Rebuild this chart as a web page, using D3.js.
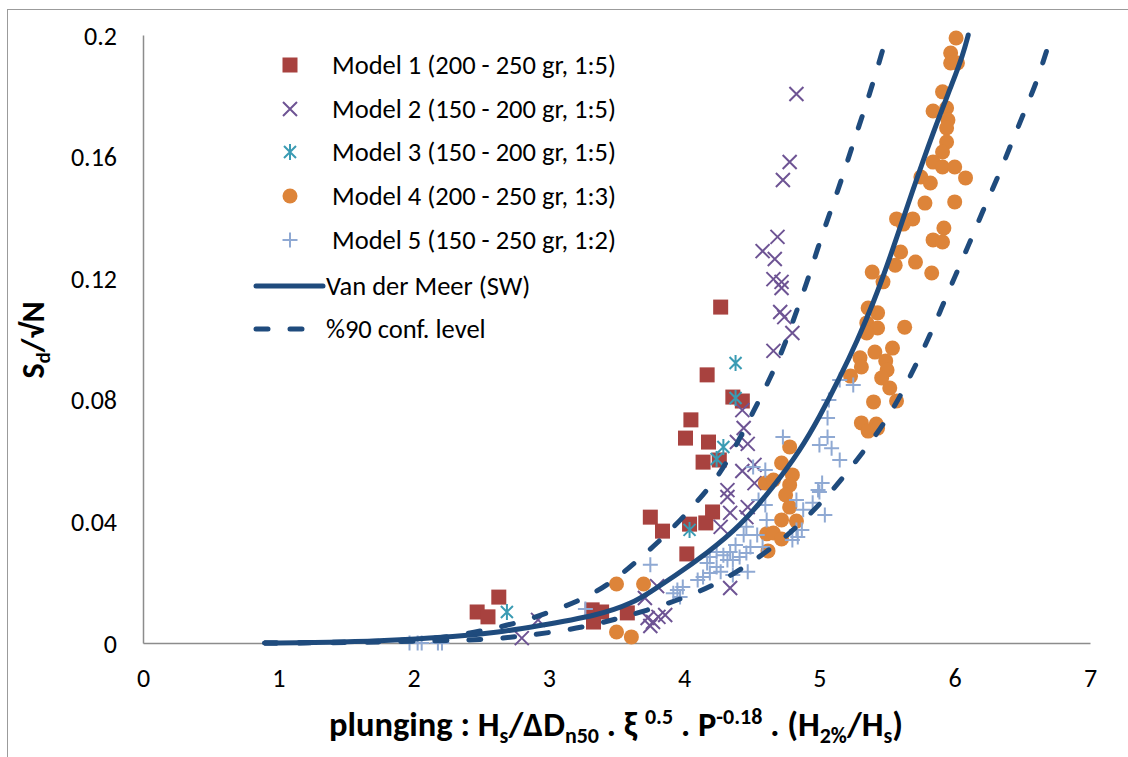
<!DOCTYPE html>
<html>
<head>
<meta charset="utf-8">
<script src="https://cdn.jsdelivr.net/npm/d3@7"></script>
<style>
  html, body { margin: 0; padding: 0; background: #fff; }
  svg { display: block; font-family: Carlito, Calibri, Lato, sans-serif; }
</style>
</head>
<body>
<svg id="chart" width="1128" height="757"></svg>
<script>
// ---- data -------------------------------------------------------------
const xTicks = [0, 1, 2, 3, 4, 5, 6, 7];
const yTicks = [0, 0.04, 0.08, 0.12, 0.16, 0.2];
const yTickLabels = ["0", "0.04", "0.08", "0.12", "0.16", "0.2"];

const seriesNames = [
  "Model 1 (200 - 250 gr, 1:5)",
  "Model 2 (150 - 200 gr, 1:5)",
  "Model 3 (150 - 200 gr, 1:5)",
  "Model 4 (200 - 250 gr, 1:3)",
  "Model 5 (150 - 250 gr, 1:2)",
  "Van der Meer (SW)",
  "%90 conf. level"
];

const model1 = [
  [2.47, 0.0102], [2.55, 0.0086], [2.63, 0.0151], [3.32, 0.0109], [3.39, 0.0102],
  [3.33, 0.0069], [3.58, 0.0099], [3.75, 0.0414], [3.84, 0.0368], [4.02, 0.0293],
  [4.04, 0.0391], [4.16, 0.0395], [4.21, 0.0431], [4.01, 0.0674], [4.05, 0.0734],
  [4.18, 0.0661], [4.14, 0.0595], [4.26, 0.0602], [4.17, 0.0882], [4.36, 0.0809],
  [4.43, 0.0796], [4.27, 0.1105]
];

const model2 = [
  [4.83, 0.1806], [4.78, 0.1582], [4.73, 0.1523], [4.69, 0.1336], [4.58, 0.1289],
  [4.67, 0.1263], [4.66, 0.1197], [4.72, 0.1188], [4.72, 0.1168], [4.71, 0.1089],
  [4.74, 0.1072], [4.80, 0.1020], [4.66, 0.0961], [4.43, 0.0766], [4.44, 0.0707],
  [4.47, 0.0655], [4.39, 0.0661], [4.43, 0.0566], [4.52, 0.0586], [4.52, 0.0526],
  [4.32, 0.0503], [4.32, 0.0480], [4.34, 0.0428], [4.47, 0.0447], [4.46, 0.0414],
  [4.27, 0.0382], [4.34, 0.0181], [2.92, 0.0076], [2.80, 0.0016], [3.71, 0.0148],
  [3.80, 0.0187], [3.73, 0.0082], [3.77, 0.0069], [3.81, 0.0086], [3.75, 0.0056],
  [3.86, 0.0092]
];

const model3 = [
  [2.69, 0.0102], [4.04, 0.0372], [4.24, 0.0605], [4.29, 0.0645], [4.38, 0.0806],
  [4.38, 0.0921]
];

const model4 = [
  [3.50, 0.0194], [3.70, 0.0194], [3.50, 0.0036], [3.61, 0.0020],
  [4.78, 0.0645], [4.72, 0.0592], [4.80, 0.0553], [4.60, 0.0526], [4.66, 0.0536],
  [4.78, 0.0520], [4.75, 0.0487], [4.78, 0.0447], [4.72, 0.0405], [4.83, 0.0401],
  [4.61, 0.0359], [4.66, 0.0362], [4.72, 0.0342], [4.62, 0.0303],
  [5.36, 0.1102], [5.43, 0.1086], [5.35, 0.1053], [5.43, 0.1036], [5.35, 0.1020],
  [5.63, 0.1039], [5.54, 0.0970], [5.41, 0.0957], [5.30, 0.0938], [5.31, 0.0908],
  [5.49, 0.0928], [5.50, 0.0898], [5.23, 0.0878], [5.46, 0.0872], [5.52, 0.0839],
  [5.40, 0.0793], [5.57, 0.0796], [5.31, 0.0724], [5.42, 0.0720], [5.36, 0.0697],
  [5.43, 0.0707],
  [6.01, 0.1990], [5.97, 0.1941], [5.97, 0.1908], [6.02, 0.1908], [5.91, 0.1813],
  [5.84, 0.1750], [5.94, 0.1760], [5.95, 0.1720], [5.94, 0.1694], [5.94, 0.1648],
  [5.91, 0.1615], [5.84, 0.1582], [5.91, 0.1566], [6.00, 0.1566], [6.08, 0.1530],
  [5.75, 0.1533], [5.82, 0.1513], [5.78, 0.1447], [6.00, 0.1451], [5.57, 0.1395],
  [5.69, 0.1395], [5.62, 0.1378], [5.92, 0.1365], [5.84, 0.1326], [5.91, 0.1319],
  [5.60, 0.1286], [5.56, 0.1243], [5.71, 0.1253], [5.39, 0.1220], [5.83, 0.1217],
  [5.47, 0.1188]
];

const model5 = [
  [1.97, 0], [2.03, 0], [2.06, 0], [2.18, 0], [2.21, 0],
  [3.27, 0.0112], [3.75, 0.0257], [3.92, 0.0164], [3.97, 0.0151], [3.95, 0.0174],
  [3.99, 0.0184], [4.10, 0.0207], [4.14, 0.0217], [4.19, 0.0230], [4.27, 0.0234],
  [4.36, 0.0224], [4.47, 0.0234], [4.17, 0.0263], [4.24, 0.0250], [4.32, 0.0273],
  [4.36, 0.0273], [4.41, 0.0283], [4.46, 0.0296], [4.19, 0.0283], [4.24, 0.0299],
  [4.29, 0.0289], [4.34, 0.0299], [4.38, 0.0322], [4.49, 0.0316], [4.58, 0.0316],
  [4.44, 0.0355], [4.46, 0.0382], [4.54, 0.0355], [4.61, 0.0405], [4.55, 0.0470],
  [4.60, 0.0454], [4.51, 0.0579], [4.60, 0.0569], [4.73, 0.0678], [4.83, 0.0470],
  [4.88, 0.0438], [4.95, 0.0461], [4.99, 0.0503], [4.83, 0.0372], [4.84, 0.0349],
  [4.80, 0.0339], [4.87, 0.0372], [5.04, 0.0421], [5.00, 0.0497], [5.02, 0.0526],
  [5.15, 0.0602], [5.09, 0.0641], [5.00, 0.0651], [5.06, 0.0678], [5.06, 0.0740],
  [5.07, 0.0799], [5.15, 0.0865], [5.25, 0.0849]
];

// Van der Meer (SW) design curve and its 90% confidence band
const vdmSW = [
  [0.90, 0], [1.50, 0.0002], [1.90, 0.0010], [2.30, 0.0020], [2.64, 0.0036],
  [2.88, 0.0053], [3.38, 0.0092], [3.62, 0.0132], [3.75, 0.0168], [3.92, 0.0217],
  [4.17, 0.0296], [4.41, 0.0382], [4.66, 0.0513], [4.86, 0.0635], [5.00, 0.0743],
  [5.15, 0.0872], [5.28, 0.0995], [5.40, 0.1120], [5.52, 0.1265], [5.69, 0.1490],
  [5.84, 0.1680], [5.99, 0.1850], [6.06, 0.1934], [6.10, 0.2000]
];

const conf90Upper = [
  [0.90, 0], [1.50, 0.0002], [2.00, 0.0010], [2.27, 0.0020], [2.54, 0.0043],
  [2.80, 0.0069], [3.05, 0.0109], [3.29, 0.0151], [3.50, 0.0211], [3.70, 0.0289],
  [3.89, 0.0365], [4.09, 0.0461], [4.25, 0.0546], [4.38, 0.0645], [4.51, 0.0760],
  [4.63, 0.0865], [4.74, 0.0975], [4.82, 0.1079], [4.91, 0.1188], [4.99, 0.1303],
  [5.08, 0.1418], [5.17, 0.1532], [5.25, 0.1645], [5.33, 0.1750], [5.41, 0.1862],
  [5.50, 0.2000]
];

const conf90Lower = [
  [0.90, 0], [1.60, 0.0001], [2.22, 0.0008], [2.49, 0.0010], [2.75, 0.0020],
  [2.99, 0.0033], [3.27, 0.0053], [3.50, 0.0079], [3.71, 0.0105], [4.02, 0.0151],
  [4.27, 0.0201], [4.49, 0.0263], [4.71, 0.0332], [4.91, 0.0414], [5.10, 0.0503],
  [5.26, 0.0592], [5.43, 0.0691], [5.56, 0.0780], [5.68, 0.0885], [5.80, 0.0995],
  [5.90, 0.1099], [6.00, 0.1204], [6.11, 0.1316], [6.21, 0.1424], [6.32, 0.1533],
  [6.42, 0.1645], [6.52, 0.1753], [6.62, 0.1862], [6.68, 0.1951], [6.72, 0.2000]
];

// ---- layout -----------------------------------------------------------
const svg = d3.select("#chart");
const x = d3.scaleLinear().domain([0, 7]).range([143, 1090]);
const y = d3.scaleLinear().domain([0, 0.2]).range([643, 35]);

const colors = {
  m1: "#A8423F",
  m2: "#6E5494",
  m3: "#3A9BB3",
  m4: "#DD8439",
  m5: "#8FA9D3",
  line: "#1F4B7D",
  axis: "#8C8C8C"
};
const labelFont = "Carlito, Calibri, Lato, sans-serif";

// outer chart frame
svg.append("rect")
  .attr("x", 7.5).attr("y", 9.5)
  .attr("width", 1140).attr("height", 760)
  .attr("fill", "none").attr("stroke", "#9b9b9b").attr("stroke-width", 1);

// axes
const yAxis = d3.axisLeft(y).tickValues(yTicks).tickSize(0).tickPadding(26)
  .tickFormat((d, i) => yTickLabels[i]);
const gy = svg.append("g").attr("transform", `translate(${x(0)},0)`).call(yAxis);
gy.select(".domain").attr("stroke", colors.axis).attr("stroke-width", 1.5);
gy.selectAll("text").attr("font-size", 26).attr("fill", "#000")
  .attr("font-family", labelFont).attr("dy", "0.35em");

const xAxis = d3.axisBottom(x).tickValues(xTicks).tickSize(0).tickPadding(26)
  .tickFormat(d3.format("d"));
const gx = svg.append("g").attr("transform", `translate(0,${y(0)})`).call(xAxis);
gx.select(".domain").attr("stroke", colors.axis).attr("stroke-width", 1.5);
gx.selectAll("text").attr("font-size", 26).attr("fill", "#000")
  .attr("font-family", labelFont).attr("dy", "0.35em")
  .attr("y", 35);

// marker shapes
const markers = {
  square: g => g.append("rect").attr("x", -7.5).attr("y", -7.5).attr("width", 15).attr("height", 15)
    .attr("fill", colors.m1),
  cross: g => g.append("path").attr("d", "M-7,-7L7,7M-7,7L7,-7")
    .attr("stroke", colors.m2).attr("stroke-width", 2).attr("fill", "none"),
  star: g => g.append("path").attr("d", "M-6,-6L6,6M-6,6L6,-6M0,-8L0,8")
    .attr("stroke", colors.m3).attr("stroke-width", 2).attr("fill", "none"),
  circle: g => g.append("circle").attr("r", 7.5).attr("fill", colors.m4),
  plus: g => g.append("path").attr("d", "M-7.5,0H7.5M0,-7.5V7.5")
    .attr("stroke", colors.m5).attr("stroke-width", 2).attr("fill", "none")
};

const scatter = [
  { data: model1, shape: "square" },
  { data: model2, shape: "cross" },
  { data: model3, shape: "star" },
  { data: model4, shape: "circle" },
  { data: model5, shape: "plus" }
];

const plot = svg.append("g");
scatter.forEach(s => {
  plot.append("g").selectAll("g").data(s.data).join("g")
    .attr("transform", d => `translate(${x(d[0])},${y(d[1])})`)
    .each(function () { markers[s.shape](d3.select(this)); });
});

// fitted curves
const line = d3.line().x(d => x(d[0])).y(d => y(d[1])).curve(d3.curveBasis);
plot.append("path").datum(vdmSW).attr("d", line)
  .attr("fill", "none").attr("stroke", colors.line).attr("stroke-width", 5)
  .attr("stroke-linecap", "round").attr("stroke-linejoin", "round");
[conf90Upper, conf90Lower].forEach(c => {
  plot.append("path").datum(c).attr("d", line)
    .attr("fill", "none").attr("stroke", colors.line).attr("stroke-width", 5)
    .attr("stroke-linecap", "round").attr("stroke-dasharray", "12,22");
});

// legend
const legend = svg.append("g");
const rowY = [65, 109, 152, 196, 240, 286, 329];
seriesNames.forEach((name, i) => {
  const row = legend.append("g").attr("transform", `translate(0,${rowY[i]})`);
  if (i < 5) {
    const m = row.append("g").attr("transform", "translate(290,0)");
    markers[scatter[i].shape](m);
  } else if (i === 5) {
    row.append("line").attr("x1", 256).attr("x2", 323).attr("y1", 0).attr("y2", 0)
      .attr("stroke", colors.line).attr("stroke-width", 5).attr("stroke-linecap", "round");
  } else {
    row.append("line").attr("x1", 256).attr("x2", 323).attr("y1", 0).attr("y2", 0)
      .attr("stroke", colors.line).attr("stroke-width", 5).attr("stroke-linecap", "round")
      .attr("stroke-dasharray", "12,22");
  }
  row.append("text").attr("x", i < 5 ? 332 : 326).attr("y", 0).attr("dy", "0.35em")
    .attr("font-size", 26.5).attr("fill", "#000").text(name);
});

// axis titles
const yTitle = svg.append("text")
  .attr("transform", "translate(44,340) rotate(-90)")
  .attr("text-anchor", "middle").attr("font-size", 32).attr("font-weight", "bold");
yTitle.append("tspan").text("S");
yTitle.append("tspan").attr("font-size", 21).attr("dy", 6).text("d");
yTitle.append("tspan").attr("dy", -6).text("/\u221AN");

const xTitle = svg.append("text")
  .attr("x", 616).attr("y", 736)
  .attr("text-anchor", "middle").attr("font-size", 34.5).attr("font-weight", "bold");
const parts = [
  ["plunging : H", 0], ["s", 1], ["/\u0394D", 0], ["n50", 1], [" . \u03BE ", 0], ["0.5", -1],
  [" . P", 0], ["-0.18", -1], [" . (H", 0], ["2%", 1], ["/H", 0], ["s", 1], [")", 0]
];
let shift = 0;
parts.forEach(([t, k]) => {
  const target = k === 1 ? 7 : k === -1 ? -12 : 0;
  xTitle.append("tspan").attr("dy", target - shift)
    .attr("font-size", k === 0 ? 34.5 : 22).text(t);
  shift = target;
});
</script>
</body>
</html>
